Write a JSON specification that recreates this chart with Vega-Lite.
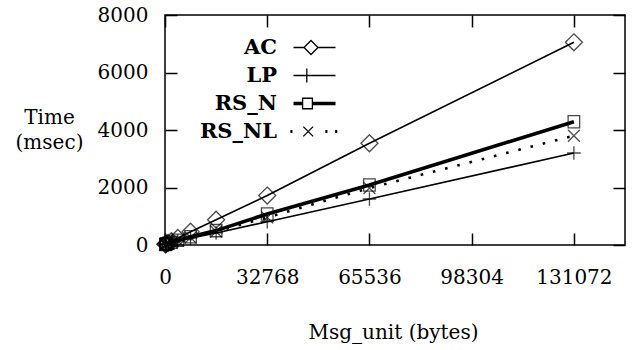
{
  "$schema": "https://vega.github.io/schema/vega-lite/v6.json",
  "width": 460,
  "height": 230,
  "autosize": "none",
  "padding": {"left": 165, "top": 15, "right": 7, "bottom": 105},
  "background": "white",
  "config": {
    "view": {"stroke": "black", "strokeWidth": 1.5},
    "font": "DejaVu Serif",
    "axis": {
      "domain": false,
      "grid": false,
      "tickColor": "black",
      "tickWidth": 1.5,
      "tickSize": 12,
      "offset": -12,
      "format": "d",
      "labelFont": "DejaVu Serif",
      "labelFontSize": 20,
      "labelColor": "black",
      "titleFont": "DejaVu Serif",
      "titleFontSize": 20,
      "titleFontWeight": "normal",
      "titleColor": "black"
    }
  },
  "data": {
    "values": [
      {"series": "AC", "x": 128, "y": 25},
      {"series": "AC", "x": 256, "y": 35},
      {"series": "AC", "x": 512, "y": 50},
      {"series": "AC", "x": 1024, "y": 75},
      {"series": "AC", "x": 2048, "y": 130},
      {"series": "AC", "x": 4096, "y": 245},
      {"series": "AC", "x": 8192, "y": 460},
      {"series": "AC", "x": 16384, "y": 880},
      {"series": "AC", "x": 32768, "y": 1720},
      {"series": "AC", "x": 65536, "y": 3540},
      {"series": "AC", "x": 131072, "y": 7050},
      {"series": "LP", "x": 128, "y": 15},
      {"series": "LP", "x": 256, "y": 22},
      {"series": "LP", "x": 512, "y": 32},
      {"series": "LP", "x": 1024, "y": 48},
      {"series": "LP", "x": 2048, "y": 80},
      {"series": "LP", "x": 4096, "y": 140},
      {"series": "LP", "x": 8192, "y": 240},
      {"series": "LP", "x": 16384, "y": 420},
      {"series": "LP", "x": 32768, "y": 810},
      {"series": "LP", "x": 65536, "y": 1600},
      {"series": "LP", "x": 131072, "y": 3200},
      {"series": "RS_N", "x": 128, "y": 20},
      {"series": "RS_N", "x": 256, "y": 28},
      {"series": "RS_N", "x": 512, "y": 40},
      {"series": "RS_N", "x": 1024, "y": 58},
      {"series": "RS_N", "x": 2048, "y": 95},
      {"series": "RS_N", "x": 4096, "y": 165},
      {"series": "RS_N", "x": 8192, "y": 290},
      {"series": "RS_N", "x": 16384, "y": 500},
      {"series": "RS_N", "x": 32768, "y": 1080},
      {"series": "RS_N", "x": 65536, "y": 2090},
      {"series": "RS_N", "x": 131072, "y": 4290},
      {"series": "RS_NL", "x": 128, "y": 18},
      {"series": "RS_NL", "x": 256, "y": 26},
      {"series": "RS_NL", "x": 512, "y": 36},
      {"series": "RS_NL", "x": 1024, "y": 52},
      {"series": "RS_NL", "x": 2048, "y": 85},
      {"series": "RS_NL", "x": 4096, "y": 150},
      {"series": "RS_NL", "x": 8192, "y": 260},
      {"series": "RS_NL", "x": 16384, "y": 470},
      {"series": "RS_NL", "x": 32768, "y": 960},
      {"series": "RS_NL", "x": 65536, "y": 1980},
      {"series": "RS_NL", "x": 131072, "y": 3800}
    ]
  },
  "resolve": {"axis": {"x": "independent", "y": "independent"}},
  "layer": [
    {
      "transform": [{"filter": "datum.series === 'AC'"}],
      "mark": {"type": "line", "color": "black", "strokeWidth": 1.6, "clip": false},
      "encoding": {
        "x": {
          "field": "x", "type": "quantitative",
          "scale": {"domain": [0, 147456], "nice": false, "zero": false},
          "axis": {"orient": "bottom", "values": [0, 32768, 65536, 98304, 131072], "labelPadding": 22, "labelFlush": false, "labelBaseline": "top", "title": "Msg_unit (bytes)", "titleY": 105, "titleBaseline": "alphabetic", "titleX": 228}
        },
        "y": {
          "field": "y", "type": "quantitative",
          "scale": {"domain": [0, 8000], "nice": false},
          "axis": {"orient": "left", "values": [0, 2000, 4000, 6000, 8000], "labelPadding": 17, "labelFlush": false, "labelBaseline": "middle", "title": ["Time", "(msec)"], "titleAngle": 0, "titleX": -128, "titleY": 92, "titleAlign": "center", "titleBaseline": "top", "titleLineHeight": 25}
        }
      }
    },
    {
      "transform": [{"filter": "datum.series === 'LP'"}],
      "mark": {"type": "line", "color": "black", "strokeWidth": 1.6, "clip": false},
      "encoding": {
        "x": {"field": "x", "type": "quantitative", "axis": null},
        "y": {"field": "y", "type": "quantitative", "axis": null}
      }
    },
    {
      "transform": [{"filter": "datum.series === 'RS_N'"}],
      "mark": {"type": "line", "color": "black", "strokeWidth": 3.6, "clip": false},
      "encoding": {
        "x": {"field": "x", "type": "quantitative", "axis": null},
        "y": {"field": "y", "type": "quantitative", "axis": null}
      }
    },
    {
      "transform": [{"filter": "datum.series === 'RS_NL'"}],
      "mark": {"type": "line", "color": "black", "strokeWidth": 2.6, "strokeDash": [2.6, 10], "clip": false},
      "encoding": {
        "x": {"field": "x", "type": "quantitative", "axis": null},
        "y": {"field": "y", "type": "quantitative", "axis": null}
      }
    },
    {
      "transform": [{"filter": "datum.series === 'AC'"}],
      "mark": {"type": "point", "shape": "M0,-1L1,0L0,1L-1,0Z", "filled": false, "color": "black", "strokeWidth": 1.3, "size": 289, "clip": false},
      "encoding": {
        "x": {
          "field": "x", "type": "quantitative",
          "axis": {"orient": "top", "values": [0, 32768, 65536, 98304, 131072], "labels": false, "title": null}
        },
        "y": {
          "field": "y", "type": "quantitative",
          "axis": {"orient": "right", "values": [0, 2000, 4000, 6000, 8000], "labels": false, "title": null}
        }
      }
    },
    {
      "transform": [{"filter": "datum.series === 'LP'"}],
      "mark": {"type": "point", "shape": "M0,-0.8L0,0.8M-0.8,0L0.8,0", "filled": false, "color": "black", "strokeWidth": 1.3, "size": 289, "clip": false},
      "encoding": {
        "x": {"field": "x", "type": "quantitative", "axis": null},
        "y": {"field": "y", "type": "quantitative", "axis": null}
      }
    },
    {
      "transform": [{"filter": "datum.series === 'RS_N'"}],
      "mark": {"type": "point", "shape": "M-0.68,-0.72L0.68,-0.72L0.68,0.72L-0.68,0.72Z", "filled": false, "color": "black", "strokeWidth": 1.3, "size": 289, "clip": false},
      "encoding": {
        "x": {"field": "x", "type": "quantitative", "axis": null},
        "y": {"field": "y", "type": "quantitative", "axis": null}
      }
    },
    {
      "transform": [{"filter": "datum.series === 'RS_NL'"}],
      "mark": {"type": "point", "shape": "M-0.7,-0.7L0.7,0.7M0.7,-0.7L-0.7,0.7", "filled": false, "color": "black", "strokeWidth": 1.3, "size": 289, "clip": false},
      "encoding": {
        "x": {"field": "x", "type": "quantitative", "axis": null},
        "y": {"field": "y", "type": "quantitative", "axis": null}
      }
    },
    {
      "mark": {"type": "point", "filled": false, "color": "black", "opacity": 0, "size": 1, "clip": false},
      "encoding": {
        "x": {"field": "x", "type": "quantitative", "axis": null},
        "y": {"field": "y", "type": "quantitative", "axis": null},
        "shape": {
          "field": "series", "type": "nominal",
          "scale": {
            "domain": ["AC", "LP", "RS_N", "RS_NL"],
            "range": [
              "M-3,0L-1.5,0M0.5,0L3,0M-0.5,-1L0.5,0L-0.5,1L-1.5,0Z",
              "M-3,0L3,0M-1.1,-1L-1.1,1",
              "M-3,-0.15L-1.7,-0.15M-3,0L-1.7,0M-3,0.15L-1.7,0.15M-0.3,-0.15L3,-0.15M-0.3,0L3,0M-0.3,0.15L3,0.15M-1.7,-0.75L-0.3,-0.75L-0.3,0.75L-1.7,0.75Z",
              "M-3.45,-0.12L-3.15,-0.12M-3.45,0L-3.15,0M-3.45,0.12L-3.15,0.12M1.55,-0.12L1.85,-0.12M1.55,0L1.85,0M1.55,0.12L1.85,0.12M2.95,-0.12L3.25,-0.12M2.95,0L3.25,0M2.95,0.12L3.25,0.12M-1.6,-0.7L-0.2,0.7M-0.2,-0.7L-1.6,0.7"
            ]
          },
          "legend": {
            "orient": "none",
            "legendX": 139,
            "legendY": 22,
            "title": null,
            "padding": 0,
            "symbolSize": 196,
            "symbolOpacity": 1,
            "symbolStrokeColor": "black",
            "symbolFillColor": "transparent",
            "symbolStrokeWidth": 1.3,
            "labelFont": "DejaVu Serif",
            "labelFontWeight": "bold",
            "labelFontSize": 21,
            "labelColor": "black",
            "labelAlign": "right",
            "labelOffset": -48,
            "rowPadding": 6
          }
        }
      }
    }
  ]
}
